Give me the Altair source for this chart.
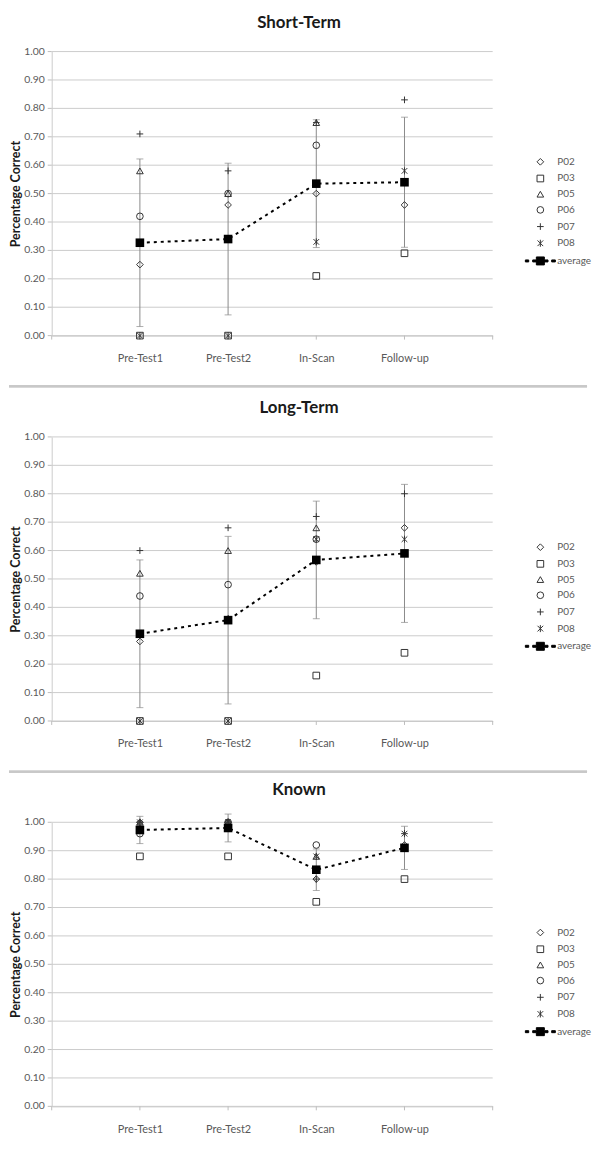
import altair as alt
import pandas as pd

FONT = "Lato"

phases = ["Pre-Test1", "Pre-Test2", "In-Scan", "Follow-up"]
phase_pos = [1, 2, 3, 4]
participants = ["P02", "P03", "P05", "P06", "P07", "P08"]
series_names = participants + ["average"]

# ---- Short-Term ----
short_p02 = [0.25, 0.46, 0.50, 0.46]
short_p03 = [0.00, 0.00, 0.21, 0.29]
short_p05 = [0.58, 0.50, 0.75, None]
short_p06 = [0.42, 0.50, 0.67, None]
short_p07 = [0.71, 0.58, 0.75, 0.83]
short_p08 = [0.00, 0.00, 0.33, 0.58]
short_avg = [0.327, 0.34, 0.535, 0.54]
short_err = [0.295, 0.267, 0.225, 0.229]

# ---- Long-Term ----
long_p02 = [0.28, 0.36, 0.56, 0.68]
long_p03 = [0.00, 0.00, 0.16, 0.24]
long_p05 = [0.52, 0.60, 0.68, None]
long_p06 = [0.44, 0.48, 0.64, None]
long_p07 = [0.60, 0.68, 0.72, 0.80]
long_p08 = [0.00, 0.00, 0.64, 0.64]
long_avg = [0.307, 0.355, 0.567, 0.59]
long_err = [0.26, 0.295, 0.207, 0.243]

# ---- Known ----
known_p02 = [1.00, 1.00, 0.80, 0.92]
known_p03 = [0.88, 0.88, 0.72, 0.80]
known_p05 = [1.00, 1.00, 0.88, None]
known_p06 = [0.96, 1.00, 0.92, None]
known_p07 = [1.00, 1.00, 0.80, 0.96]
known_p08 = [1.00, 1.00, 0.88, 0.96]
known_avg = [0.973, 0.98, 0.833, 0.91]
known_err = [0.048, 0.049, 0.073, 0.076]

y_ticks = [0.0, 0.1, 0.2, 0.3, 0.4, 0.5, 0.6, 0.7, 0.8, 0.9, 1.0]
x_ticks = [0, 1, 2, 3, 4, 5]

SHAPES = [
    "diamond",
    "square",
    "triangle-up",
    "circle",
    "M-1,0L1,0M0,-1L0,1",
    "M-0.85,-0.85L0.85,0.85M-0.85,0.85L0.85,-0.85M0,-1.05L0,1.05",
    "M-4.5,-0.3L-3.5,-0.3L-3.5,0.3L-4.5,0.3Z"
    "M-2.3,-0.3L-1.2,-0.3L-1.2,-1.2L1.2,-1.2L1.2,-0.3L2.3,-0.3L2.3,0.3L1.2,0.3L1.2,1.2L-1.2,1.2L-1.2,0.3L-2.3,0.3Z"
    "M3.4,-0.3L4.5,-0.3L4.5,0.3L3.4,0.3Z",
]
FILLS = ["transparent"] * 6 + ["black"]
STROKES = ["#333333"] * 6 + ["black"]

label_expr = " : ".join(
    f"datum.value == {p} ? '{n}'" for p, n in zip(phase_pos, phases)
) + " : ''"

X_AXIS = alt.Axis(
    title=None, labelExpr=label_expr, ticks=False,
    grid=False, domainColor="#c8c8c8",
    labelPadding=17, labelFont=FONT, labelFontSize=11, labelColor="#595959",
    labelOverlap=False,
)
Y_AXIS = alt.Axis(
    title="Percentage Correct", labels=False, ticks=False, grid=False,
    domainColor="#cccccc",
    titleFont=FONT, titleFontSize=12.5, titleFontWeight="bold",
    titleColor="#1a1a1a", titleX=-36, titleY=143, titleBaseline="middle",
)
X_SCALE = alt.Scale(domain=[0, 5], nice=False, zero=False)
Y_SCALE = alt.Scale(domain=[0, 1], nice=False)

tick_df = pd.DataFrame({"t": y_ticks})
xtick_df = pd.DataFrame({"pos": x_ticks})


def xe():
    return alt.X("pos:Q", scale=X_SCALE, axis=X_AXIS)


def ye(field):
    return alt.Y(f"{field}:Q", scale=Y_SCALE, axis=Y_AXIS)


def panel(title, plist, avg, err, separator):
    rows = []
    for name, vals in zip(participants, plist):
        for p, v in zip(phase_pos, vals):
            if v is not None:
                rows.append({"pos": p, "value": v, "series": name})
    pdf = pd.DataFrame(rows)
    adf = pd.DataFrame({
        "pos": phase_pos,
        "avg": avg,
        "lo": [a - e for a, e in zip(avg, err)],
        "hi": [a + e for a, e in zip(avg, err)],
    })

    legend = alt.Legend(
        title=None, orient="none", legendX=487, legendY=106, padding=0,
        labelFont=FONT, labelFontSize=10, labelColor="#595959",
        symbolSize=45, symbolStrokeWidth=1,
        rowPadding=4.8, labelOffset=12,
    )

    tk = alt.Chart(tick_df)
    grid = tk.mark_rule(color="#cccccc", strokeWidth=1).encode(
        x=alt.value(0), x2=alt.value(444), y=ye("t")
    )
    yticks = tk.mark_rule(color="#bdbdbd", strokeWidth=1).encode(
        x=alt.value(-4), x2=alt.value(0), y=ye("t")
    )
    ylabels = tk.mark_text(
        align="right", baseline="middle", font=FONT, fontSize=10.5, color="#595959"
    ).encode(x=alt.value(-7), y=ye("t"), text=alt.Text("t:Q", format=".2f"))
    xticks = alt.Chart(xtick_df).mark_rule(color="#bdbdbd", strokeWidth=1).encode(
        x=xe(), y=alt.value(286), y2=alt.value(290)
    )

    base_err = alt.Chart(adf)
    rule = base_err.mark_rule(color="#8a8a8a", strokeWidth=1).encode(
        x=xe(), y=ye("lo"), y2="hi:Q"
    )
    cap_lo = base_err.mark_tick(orient="horizontal", size=7, thickness=1, color="#8a8a8a").encode(
        x=xe(), y=ye("lo")
    )
    cap_hi = base_err.mark_tick(orient="horizontal", size=7, thickness=1, color="#8a8a8a").encode(
        x=xe(), y=ye("hi")
    )
    pts = alt.Chart(pdf).mark_point(
        filled=True, strokeWidth=1, size=45, opacity=1
    ).encode(
        x=xe(),
        y=ye("value"),
        shape=alt.Shape("series:N", scale=alt.Scale(domain=series_names, range=SHAPES), legend=legend),
        fill=alt.Fill("series:N", scale=alt.Scale(domain=series_names, range=FILLS), legend=legend),
        stroke=alt.Stroke("series:N", scale=alt.Scale(domain=series_names, range=STROKES), legend=legend),
    )
    line = base_err.mark_line(color="black", strokeWidth=2, strokeDash=[3, 4]).encode(
        x=xe(), y=ye("avg")
    )
    avg_pts = base_err.mark_point(
        shape="square", filled=True, color="black", size=75, opacity=1
    ).encode(x=xe(), y=ye("avg"))

    layers = [grid, yticks, ylabels, xticks, rule, cap_lo, cap_hi, pts, line, avg_pts]
    if separator is not None:
        sep = base_err.mark_rule(color="#c8c8c8", strokeWidth=2).encode(
            x=alt.value(-43), x2=alt.value(539), y=alt.value(separator)
        )
        layers.append(sep)

    return alt.layer(*layers).properties(
        width=444, height=286,
        title=alt.TitleParams(
            title, font=FONT, fontSize=17, fontWeight="bold", color="#1a1a1a",
            anchor="middle", frame="group", dx=27, offset=15,
        ),
    )


c1 = panel("Short-Term",
           [short_p02, short_p03, short_p05, short_p06, short_p07, short_p08],
           short_avg, short_err, 337)
c2 = panel("Long-Term",
           [long_p02, long_p03, long_p05, long_p06, long_p07, long_p08],
           long_avg, long_err, 337)
c3 = panel("Known",
           [known_p02, known_p03, known_p05, known_p06, known_p07, known_p08],
           known_avg, known_err, None)

chart = alt.vconcat(c1, c2, c3, spacing=102, bounds="flush").resolve_scale(
    shape="independent", fill="independent", stroke="independent"
).resolve_legend(
    shape="independent", fill="independent", stroke="independent"
).properties(
    padding={"left": 0, "top": 2, "right": 0, "bottom": 0},
).configure_view(stroke=None)

chart.save("out.html", embed_options={"renderer": "svg", "actions": False})
